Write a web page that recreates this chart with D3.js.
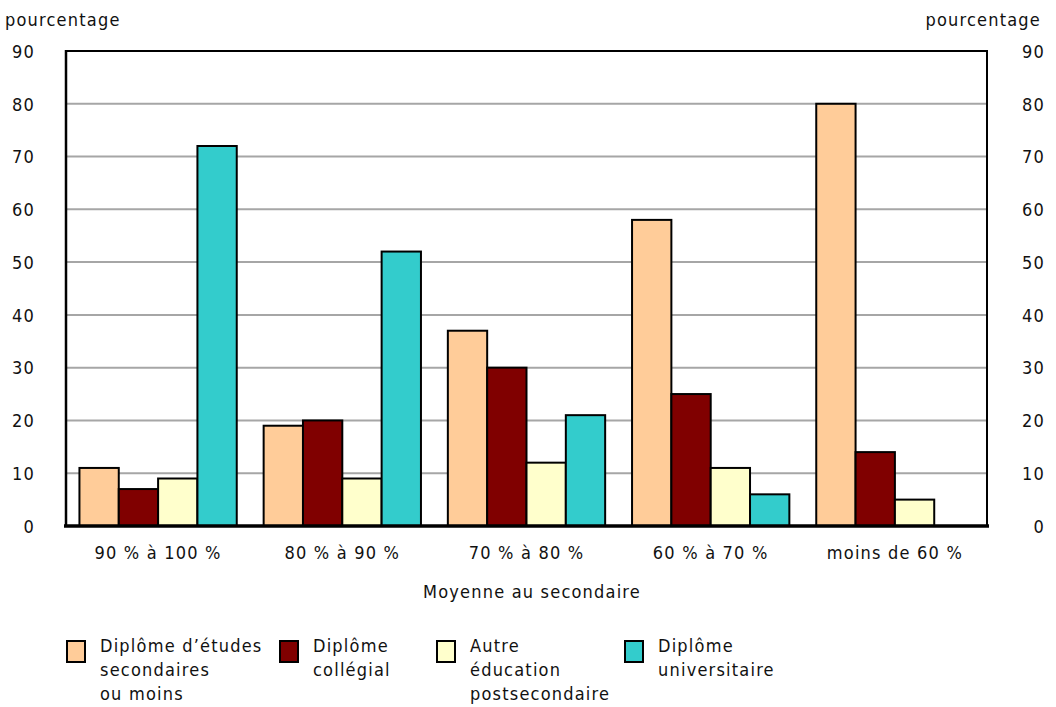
<!DOCTYPE html>
<html><head><meta charset="utf-8">
<script src="https://cdn.jsdelivr.net/npm/d3@7"></script>
<style>
body{margin:0;background:#fff;}
text{font-family:"Liberation Sans Narrow","DejaVu Sans Condensed",sans-serif;font-size:18px;fill:#111;letter-spacing:1.2px;}
</style></head>
<body><svg id="c" width="1056" height="707"></svg>
<script>
const categories = ["90 % à 100 %","80 % à 90 %","70 % à 80 %","60 % à 70 %","moins de 60 %"];
const seriesNames = [["Diplôme d’études","secondaires","ou moins"],["Diplôme","collégial"],["Autre","éducation","postsecondaire"],["Diplôme","universitaire"]];
const seriesKeys = ["sec","col","autre","univ"];
const secValues = [11,19,37,58,80];
const colValues = [7,20,30,25,14];
const autreValues = [9,9,12,11,5];
const univValues = [72,52,21,6,null];
const yTicks = [0,10,20,30,40,50,60,70,80,90];
const colors = ["#FFCC99","#800000","#FFFFCC","#33CCCC"];

const svg = d3.select("#c");
const L=66,R=987,T=51,B=526;
const x0 = d3.scaleBand().domain(categories).range([L,R]).paddingInner(0.146).paddingOuter(0.073);
const x1 = d3.scaleBand().domain(seriesKeys).range([0,x0.bandwidth()]);
const y = d3.scaleLinear().domain([0,90]).range([B,T]);
const vals = [secValues,colValues,autreValues,univValues];

// gridlines
svg.append("g").selectAll("line").data(yTicks.filter(d=>d>0&&d<90)).join("line")
 .attr("x1",L).attr("x2",R).attr("y1",d=>y(d)).attr("y2",d=>y(d))
 .attr("stroke","#a6a6a6").attr("stroke-width",2);

// bars
categories.forEach((c,i)=>{
  seriesKeys.forEach((k,j)=>{
    const v = vals[j][i];
    if(v==null) return;
    svg.append("rect").attr("x",x0(c)+x1(k)).attr("y",y(v)).attr("width",x1.bandwidth()).attr("height",y(0)-y(v))
      .attr("fill",colors[j]).attr("stroke","#000").attr("stroke-width",2);
  });
});

// frame
svg.append("line").attr("x1",L).attr("x2",R).attr("y1",T).attr("y2",T).attr("stroke","#000").attr("stroke-width",2);
svg.append("line").attr("x1",L).attr("x2",L).attr("y1",T-1).attr("y2",B).attr("stroke","#000").attr("stroke-width",2.5);
svg.append("line").attr("x1",R).attr("x2",R).attr("y1",T-1).attr("y2",B).attr("stroke","#000").attr("stroke-width",2);
svg.append("line").attr("x1",L-2).attr("x2",R+2).attr("y1",B).attr("y2",B).attr("stroke","#000").attr("stroke-width",3.5);

// y axis labels
const yl = d3.axisLeft(y).tickValues(yTicks).tickSize(0).tickPadding(0);
const gl = svg.append("g").attr("transform",`translate(35,0)`).call(yl);
gl.select(".domain").remove();
gl.selectAll("text").attr("font-size",null).attr("font-family",null).attr("dy","0.35em").style("font-size","18px");
const yr = d3.axisLeft(y).tickValues(yTicks).tickSize(0).tickPadding(0);
const gr = svg.append("g").attr("transform",`translate(1045,0)`).call(yr);
gr.select(".domain").remove();
gr.selectAll("text").attr("font-size",null).attr("font-family",null).attr("dy","0.35em").style("font-size","18px");

// x axis labels
const xa = d3.axisBottom(x0).tickSize(0).tickPadding(0);
const gx = svg.append("g").attr("transform",`translate(0,${B+20})`).call(xa);
gx.select(".domain").remove();
gx.selectAll("text").attr("font-size",null).attr("font-family",null).attr("dy","0.71em").style("font-size","18px");

svg.append("text").attr("x",5).attr("y",26).text("pourcentage");
svg.append("text").attr("x",1041).attr("y",26).attr("text-anchor","end").text("pourcentage");
svg.append("text").attr("x",532).attr("y",598).attr("text-anchor","middle").text("Moyenne au secondaire");

// legend
const legX = [67,280,437,625];
seriesNames.forEach((lines,j)=>{
  const g = svg.append("g");
  g.append("rect").attr("x",legX[j]).attr("y",641).attr("width",18).attr("height",21).attr("fill",colors[j]).attr("stroke","#000").attr("stroke-width",2);
  const t = g.append("text").attr("x",legX[j]+33).attr("y",652);
  lines.forEach((ln,k)=>t.append("tspan").attr("x",legX[j]+33).attr("dy",k?24:0).text(ln));
});
</script></body></html>
